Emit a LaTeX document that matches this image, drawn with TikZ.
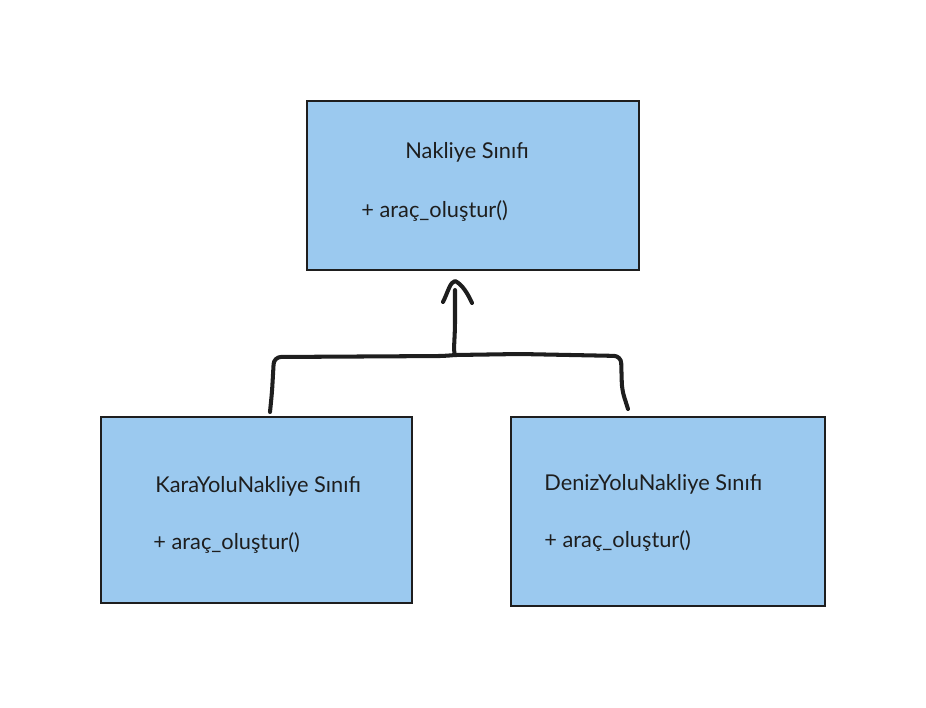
\documentclass[tikz,border=0pt]{standalone}
\usepackage{fontspec}
\setmainfont{Lato}
\usetikzlibrary{arrows.meta}
\definecolor{boxfill}{HTML}{9BC9EF}
\definecolor{ink}{HTML}{1E1E1E}
\tikzset{
  classbox/.style={draw=ink, line width=1.2pt, fill=boxfill},
  label/.style={anchor=west, inner sep=0pt, font=\fontsize{12.4}{14}\selectfont, text=ink},
  wire/.style={draw=ink, line width=2.3pt, line cap=round, line join=round, rounded corners=4pt},
}
\begin{document}
\begin{tikzpicture}[x=0.02cm, y=-0.02cm]
\useasboundingbox (0,0) rectangle (926,707);
% boxes
\draw[classbox] (307,101) rectangle (639,270);
\coordinate (topBottom) at (455,281);
\draw[classbox] (101,417) rectangle (412,603);
\draw[classbox] (511,417) rectangle (825,606);
% texts
\node[label] (topName) at (405,152) {Nakliye Sınıfı};
\node[label] (topOp) at (361,211) {+ araç\_oluştur()};
\node[label] (leftName) at (155,486) {KaraYoluNakliye Sınıfı};
\node[label] (leftOp) at (153,543) {+ araç\_oluştur()};
\node[label] (rightName) at (544,484) {DenizYoluNakliye Sınıfı};
\node[label] (rightOp) at (544,541) {+ araç\_oluştur()};
% connector points
\coordinate (leftStart) at (270,412);
\coordinate (rightStart) at (628,409);
\coordinate (junction) at (455,355);
% connectors
\draw[wire] (leftStart) -- (272,392) -- (274,357) -- (444,356) -- (junction);
\draw[wire] (rightStart) -- (622,390) -- (621,356) -- (520,354) -- (junction);
\draw[wire, rounded corners=0pt] (junction) .. controls (453,350) and (455,340) .. (455,320) -- (455,290);
\draw[wire, rounded corners=0pt] (443,302) .. controls (448,292) and (450,282) .. (topBottom) .. controls (462,284) and (468,294) .. (472,303);
\end{tikzpicture}
\end{document}
